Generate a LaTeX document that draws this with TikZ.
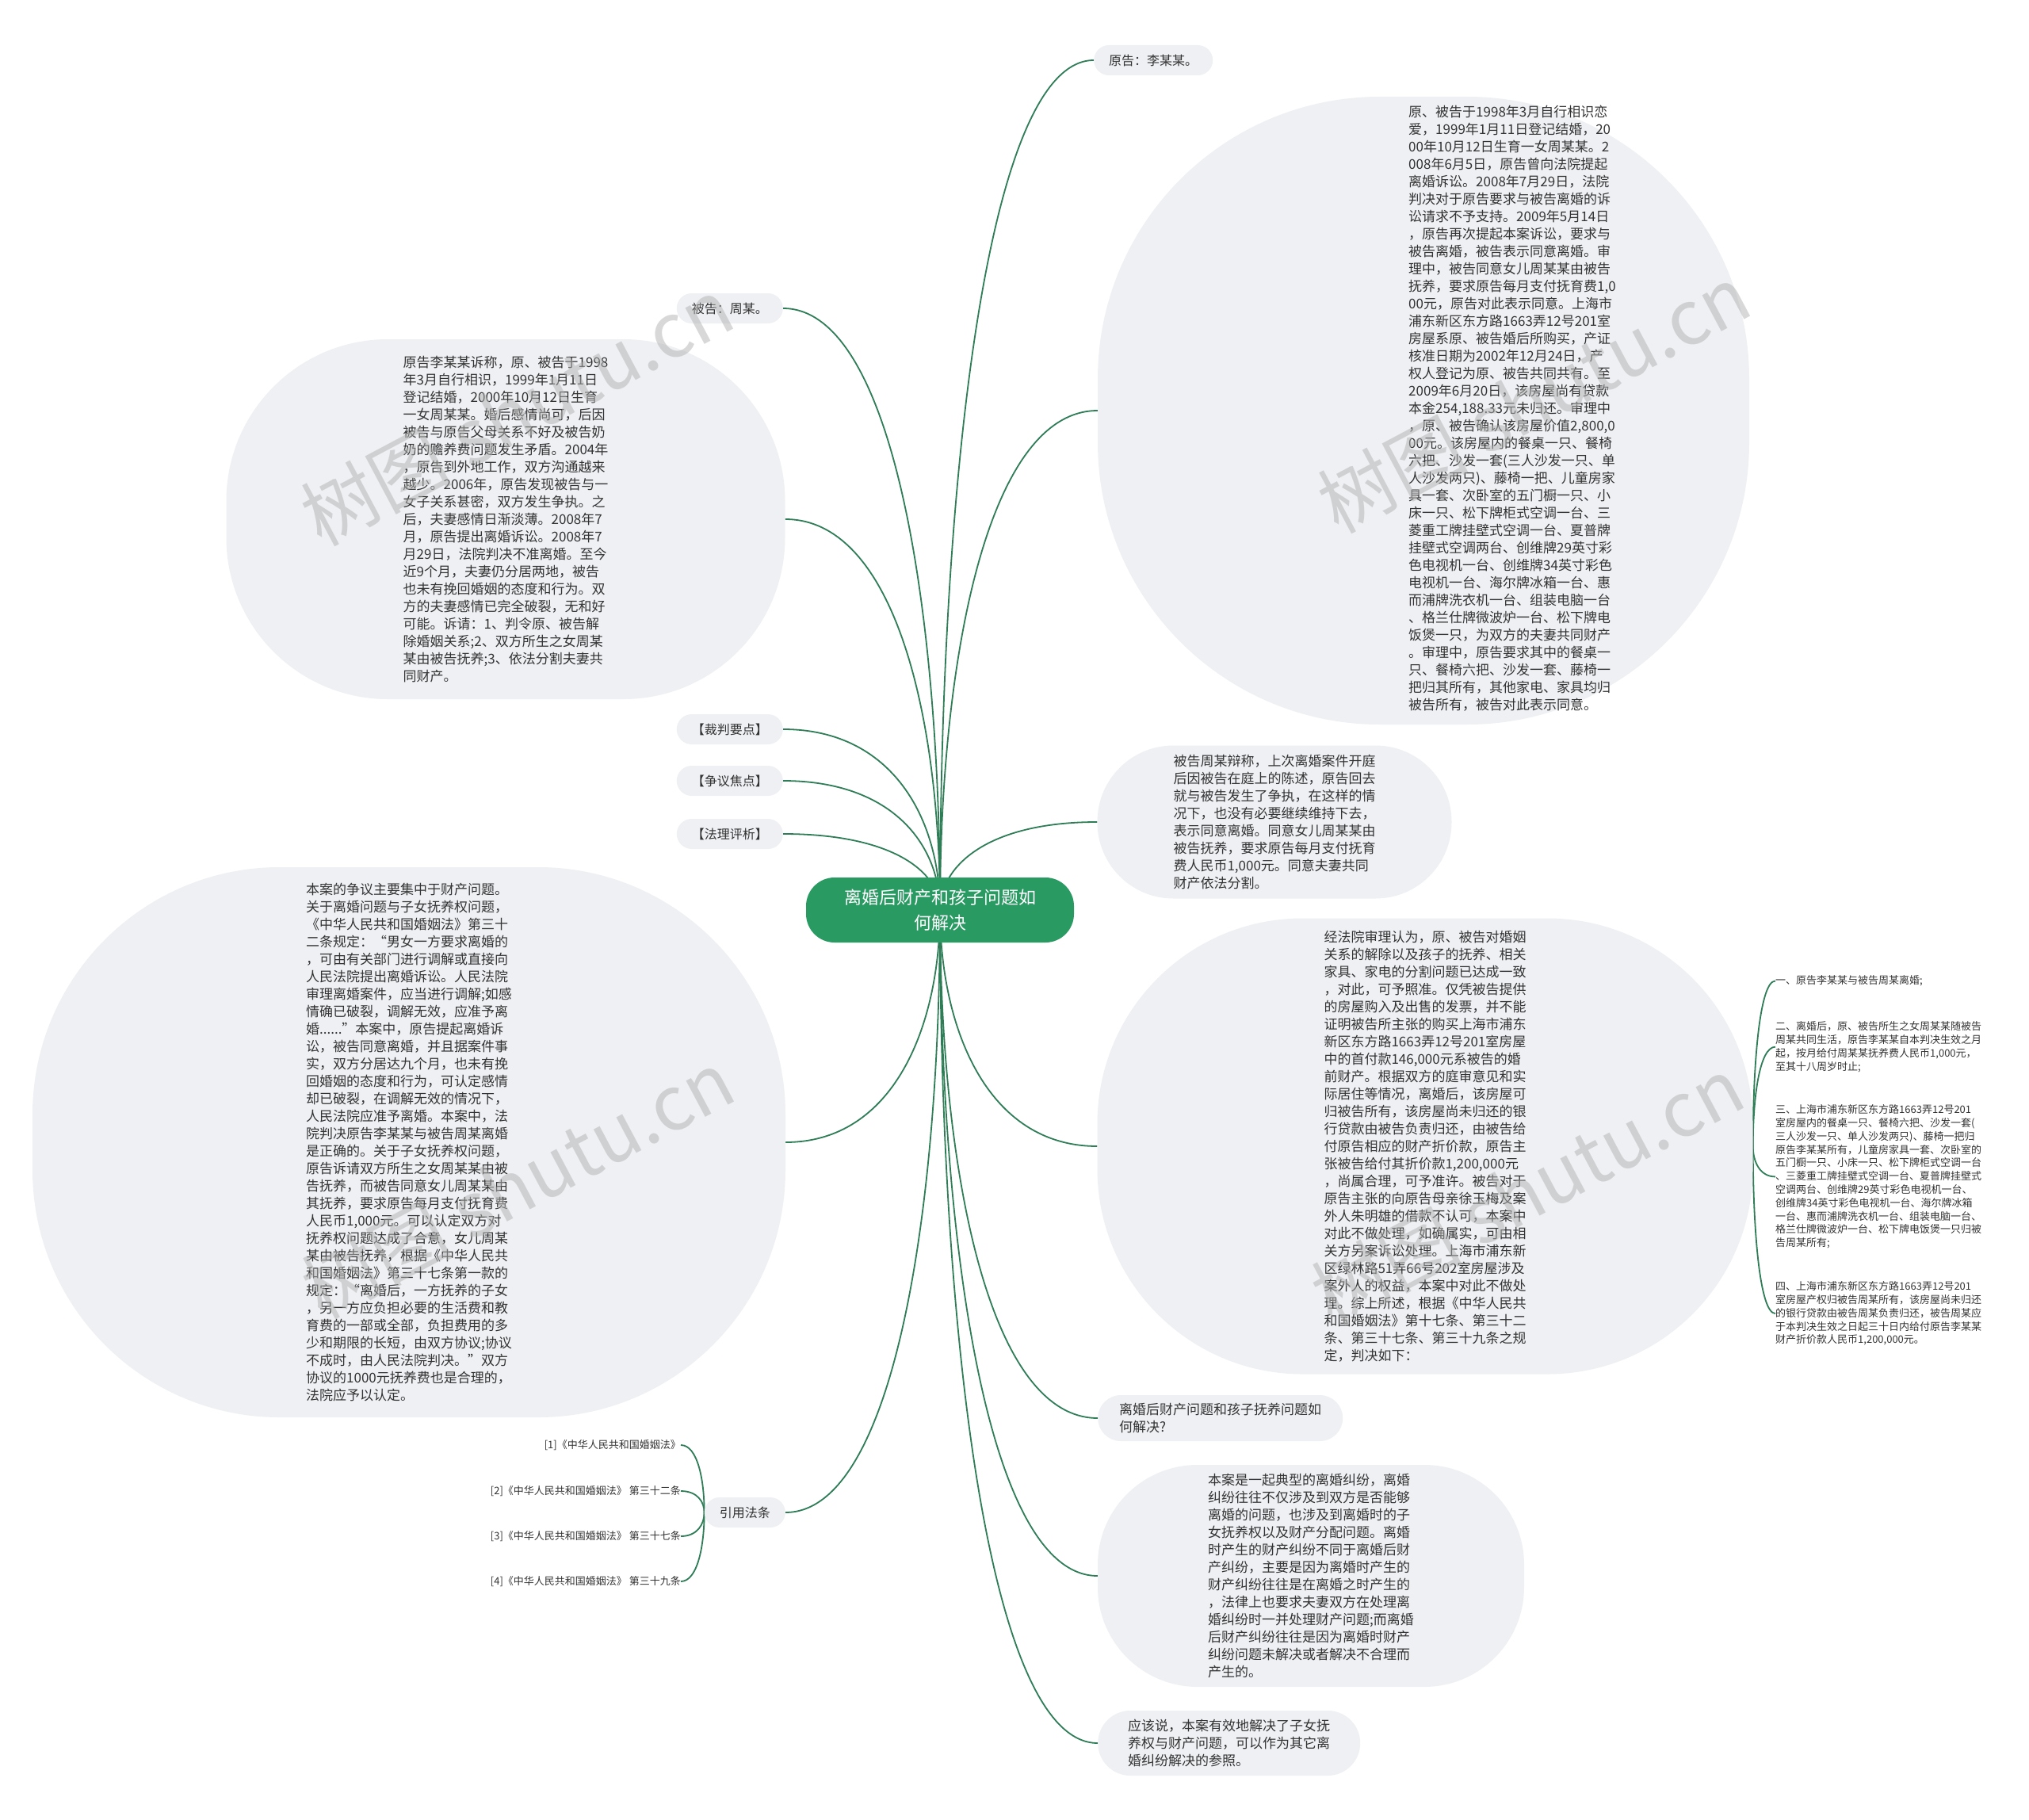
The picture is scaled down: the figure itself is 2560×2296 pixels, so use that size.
\documentclass[tikz,border=0pt]{standalone}
\usepackage{fontspec}
\setmainfont{Noto Sans CJK SC}
\usepackage{tikz}
\usetikzlibrary{calc, backgrounds}
\definecolor{mmGreen}{HTML}{2A9A63}
\definecolor{mmLink}{HTML}{2E7D57}
\definecolor{mmFill}{HTML}{EEF0F3}
\definecolor{mmInk}{HTML}{333333}

\begin{document}
\begin{tikzpicture}[
  x=1pt, y=-1pt,
  bodytxt/.style={font=\fontsize{17}{22}\selectfont, text=mmInk, align=left, inner sep=0pt},
  smalltxt/.style={font=\fontsize{13}{16.8}\selectfont, text=mmInk, align=left, inner sep=0pt},
  blob/.style={fill=mmFill, inner sep=0pt},
  pill/.style={fill=mmFill, font=\fontsize{16}{20}\selectfont, text=mmInk,
               rounded corners=19pt, minimum height=38pt, inner xsep=19pt, inner ysep=0pt},
  hub/.style={fill=mmGreen, text=white, font=\fontsize{22}{32}\selectfont, align=center,
              rounded corners=36pt, minimum width=338pt, minimum height=82pt, inner sep=0pt},
  branch/.style={draw=mmLink, line width=1.8pt},
  wmark/.style={text=gray!60, opacity=0.5, font=\fontsize{95}{100}\selectfont, inner sep=0pt},
]

% curve from a parent anchor to a child anchor
\newcommand{\linkto}[2]{%
  \draw[branch] (#1) .. controls ($(#1)!0.5!(#1|-#2)$) and ($(#2-|#1)!0.3!(#2)$) .. (#2);}

\useasboundingbox (0,0) rectangle (2560,2296);

% ================================ root =======================================
\node[hub] (root) at (1186,1148) {离婚后财产和孩子问题如\\何解决};

% ============================ right side =====================================
\node[pill, anchor=west] (plaintiff) at (1380,76) {原告：李某某。};

\node[blob, rounded corners=356pt, minimum width=822pt, minimum height=792pt] (facts) at (1796,518) {};
\node[bodytxt, anchor=north west] (factsText) at (1777,133) {%
原、被告于1998年3月自行相识恋\\
爱，1999年1月11日登记结婚，20\\
00年10月12日生育一女周某某。2\\
008年6月5日，原告曾向法院提起\\
离婚诉讼。2008年7月29日，法院\\
判决对于原告要求与被告离婚的诉\\
讼请求不予支持。2009年5月14日\\
，原告再次提起本案诉讼，要求与\\
被告离婚，被告表示同意离婚。审\\
理中，被告同意女儿周某某由被告\\
抚养，要求原告每月支付抚育费1,0\\
00元，原告对此表示同意。上海市\\
浦东新区东方路1663弄12号201室\\
房屋系原、被告婚后所购买，产证\\
核准日期为2002年12月24日，产\\
权人登记为原、被告共同共有。至\\
2009年6月20日，该房屋尚有贷款\\
本金254,188.33元未归还。审理中\\
，原、被告确认该房屋价值2,800,0\\
00元。该房屋内的餐桌一只、餐椅\\
六把、沙发一套(三人沙发一只、单\\
人沙发两只)、藤椅一把、儿童房家\\
具一套、次卧室的五门橱一只、小\\
床一只、松下牌柜式空调一台、三\\
菱重工牌挂壁式空调一台、夏普牌\\
挂壁式空调两台、创维牌29英寸彩\\
色电视机一台、创维牌34英寸彩色\\
电视机一台、海尔牌冰箱一台、惠\\
而浦牌洗衣机一台、组装电脑一台\\
、格兰仕牌微波炉一台、松下牌电\\
饭煲一只，为双方的夫妻共同财产\\
。审理中，原告要求其中的餐桌一\\
只、餐椅六把、沙发一套、藤椅一\\
把归其所有，其他家电、家具均归\\
被告所有，被告对此表示同意。};

\node[blob, bodytxt, rounded corners=96pt, minimum width=447pt, minimum height=193pt] (defense) at (1608,1037) {%
被告周某辩称，上次离婚案件开庭\\
后因被告在庭上的陈述，原告回去\\
就与被告发生了争执，在这样的情\\
况下，也没有必要继续维持下去，\\
表示同意离婚。同意女儿周某某由\\
被告抚养，要求原告每月支付抚育\\
费人民币1,000元。同意夫妻共同\\
财产依法分割。};

\node[blob, bodytxt, rounded corners=259pt, minimum width=827pt, minimum height=575pt] (ruling) at (1798,1446) {%
经法院审理认为，原、被告对婚姻\\
关系的解除以及孩子的抚养、相关\\
家具、家电的分割问题已达成一致\\
，对此，可予照准。仅凭被告提供\\
的房屋购入及出售的发票，并不能\\
证明被告所主张的购买上海市浦东\\
新区东方路1663弄12号201室房屋\\
中的首付款146,000元系被告的婚\\
前财产。根据双方的庭审意见和实\\
际居住等情况，离婚后，该房屋可\\
归被告所有，该房屋尚未归还的银\\
行贷款由被告负责归还，由被告给\\
付原告相应的财产折价款，原告主\\
张被告给付其折价款1,200,000元\\
，尚属合理，可予准许。被告对于\\
原告主张的向原告母亲徐玉梅及案\\
外人朱明雄的借款不认可，本案中\\
对此不做处理，如确属实，可由相\\
关方另案诉讼处理。上海市浦东新\\
区绿林路51弄66号202室房屋涉及\\
案外人的权益，本案中对此不做处\\
理。综上所述，根据《中华人民共\\
和国婚姻法》第十七条、第三十二\\
条、第三十七条、第三十九条之规\\
定，判决如下：};

% the four items of the judgment
\node[smalltxt, anchor=north west] (verdict1) at (2240,1230.5) {一、原告李某某与被告周某离婚;};
\node[smalltxt, anchor=north west] (verdict2) at (2240,1288.5) {%
二、离婚后，原、被告所生之女周某某随被告\\
周某共同生活，原告李某某自本判决生效之月\\
起，按月给付周某某抚养费人民币1,000元，\\
至其十八周岁时止;};
\node[smalltxt, anchor=north west] (verdict3) at (2240,1393.5) {%
三、上海市浦东新区东方路1663弄12号201\\
室房屋内的餐桌一只、餐椅六把、沙发一套(\\
三人沙发一只、单人沙发两只)、藤椅一把归\\
原告李某某所有，儿童房家具一套、次卧室的\\
五门橱一只、小床一只、松下牌柜式空调一台\\
、三菱重工牌挂壁式空调一台、夏普牌挂壁式\\
空调两台、创维牌29英寸彩色电视机一台、\\
创维牌34英寸彩色电视机一台、海尔牌冰箱\\
一台、惠而浦牌洗衣机一台、组装电脑一台、\\
格兰仕牌微波炉一台、松下牌电饭煲一只归被\\
告周某所有;};
\node[smalltxt, anchor=north west] (verdict4) at (2240,1616.5) {%
四、上海市浦东新区东方路1663弄12号201\\
室房屋产权归被告周某所有，该房屋尚未归还\\
的银行贷款由被告周某负责归还，被告周某应\\
于本判决生效之日起三十日内给付原告李某某\\
财产折价款人民币1,200,000元。};

\node[pill, bodytxt, fill=mmFill, inner xsep=27pt, minimum height=58pt, rounded corners=29pt, anchor=west] (question) at (1385,1789) {%
离婚后财产问题和孩子抚养问题如\\
何解决?};

\node[blob, bodytxt, rounded corners=126pt, minimum width=538pt, minimum height=280pt] (comment) at (1654,1988) {%
本案是一起典型的离婚纠纷，离婚\\
纠纷往往不仅涉及到双方是否能够\\
离婚的问题，也涉及到离婚时的子\\
女抚养权以及财产分配问题。离婚\\
时产生的财产纠纷不同于离婚后财\\
产纠纷，主要是因为离婚时产生的\\
财产纠纷往往是在离婚之时产生的\\
，法律上也要求夫妻双方在处理离\\
婚纠纷时一并处理财产问题;而离婚\\
后财产纠纷往往是因为离婚时财产\\
纠纷问题未解决或者解决不合理而\\
产生的。};

\node[pill, bodytxt, fill=mmFill, inner xsep=38pt, minimum height=82pt, rounded corners=41pt, anchor=west] (closing) at (1385,2199) {%
应该说，本案有效地解决了子女抚\\
养权与财产问题，可以作为其它离\\
婚纠纷解决的参照。};

% ============================= left side =====================================
\node[pill, anchor=east] (defendant) at (988,389) {被告：周某。};

\node[blob, bodytxt, rounded corners=204pt, minimum width=705pt, minimum height=454pt] (plaint) at (638,655) {%
原告李某某诉称，原、被告于1998\\
年3月自行相识，1999年1月11日\\
登记结婚，2000年10月12日生育\\
一女周某某。婚后感情尚可，后因\\
被告与原告父母关系不好及被告奶\\
奶的赡养费问题发生矛盾。2004年\\
，原告到外地工作，双方沟通越来\\
越少。2006年，原告发现被告与一\\
女子关系甚密，双方发生争执。之\\
后，夫妻感情日渐淡薄。2008年7\\
月，原告提出离婚诉讼。2008年7\\
月29日，法院判决不准离婚。至今\\
近9个月，夫妻仍分居两地，被告\\
也未有挽回婚姻的态度和行为。双\\
方的夫妻感情已完全破裂，无和好\\
可能。诉请：1、判令原、被告解\\
除婚姻关系;2、双方所生之女周某\\
某由被告抚养;3、依法分割夫妻共\\
同财产。};

\node[pill, anchor=east] (keypoint) at (988,920) {【裁判要点】};
\node[pill, anchor=east] (dispute) at (988,985) {【争议焦点】};
\node[pill, anchor=east] (reasoning) at (988,1052) {【法理评析】};

\node[blob, bodytxt, rounded corners=312pt, minimum width=950pt, minimum height=694pt] (analysis) at (516,1441) {%
本案的争议主要集中于财产问题。\\
关于离婚问题与子女抚养权问题，\\
《中华人民共和国婚姻法》第三十\\
二条规定：“男女一方要求离婚的\\
，可由有关部门进行调解或直接向\\
人民法院提出离婚诉讼。人民法院\\
审理离婚案件，应当进行调解;如感\\
情确已破裂，调解无效，应准予离\\
婚......”本案中，原告提起离婚诉\\
讼，被告同意离婚，并且据案件事\\
实，双方分居达九个月，也未有挽\\
回婚姻的态度和行为，可认定感情\\
却已破裂，在调解无效的情况下，\\
人民法院应准予离婚。本案中，法\\
院判决原告李某某与被告周某离婚\\
是正确的。关于子女抚养权问题，\\
原告诉请双方所生之女周某某由被\\
告抚养，而被告同意女儿周某某由\\
其抚养，要求原告每月支付抚育费\\
人民币1,000元。可以认定双方对\\
抚养权问题达成了合意，女儿周某\\
某由被告抚养，根据《中华人民共\\
和国婚姻法》第三十七条第一款的\\
规定：“离婚后，一方抚养的子女\\
，另一方应负担必要的生活费和教\\
育费的一部或全部，负担费用的多\\
少和期限的长短，由双方协议;协议\\
不成时，由人民法院判决。”双方\\
协议的1000元抚养费也是合理的，\\
法院应予以认定。};

\node[pill, anchor=east] (cite) at (991,1908) {引用法条};
\node[smalltxt, anchor=east] (law1) at (859,1823) {[1]《中华人民共和国婚姻法》};
\node[smalltxt, anchor=east] (law2) at (859,1881) {[2]《中华人民共和国婚姻法》 第三十二条};
\node[smalltxt, anchor=east] (law3) at (859,1938) {[3]《中华人民共和国婚姻法》 第三十七条};
\node[smalltxt, anchor=east] (law4) at (859,1995) {[4]《中华人民共和国婚姻法》 第三十九条};

% ============================= connectors ====================================
\begin{scope}[on background layer]
  \fill[white] (0,0) rectangle (2560,2296);
  \foreach \kid in {plaintiff, facts, defense, ruling, question, comment, closing}
    \linkto{root.center}{\kid.west};
  \foreach \kid in {defendant, plaint, keypoint, dispute, reasoning, analysis, cite}
    \linkto{root.center}{\kid.east};
  \foreach \kid in {verdict1, verdict2, verdict3, verdict4}
    \linkto{ruling.east}{\kid.west};
  \foreach \kid in {law1, law2, law3, law4}
    \linkto{cite.west}{\kid.east};
\end{scope}

% ============================= watermarks ====================================
\foreach \wx/\wy [count=\i] in {652/519, 1935/503, 653/1494, 1927/1502}
  \node[wmark, rotate=28] (wm\i) at (\wx,\wy) {树图 shutu.cn};
\end{tikzpicture}
\end{document}
